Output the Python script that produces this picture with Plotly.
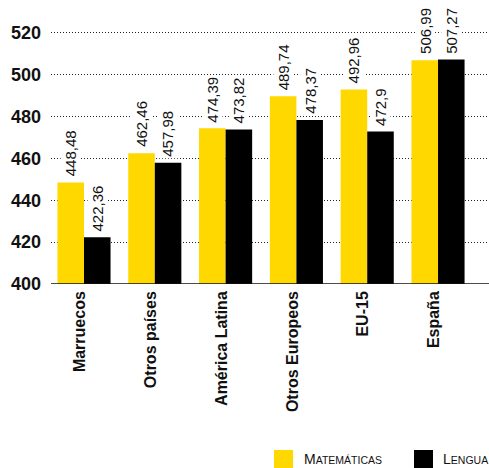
import plotly.graph_objects as go

categories = ["Marruecos", "Otros países", "América Latina", "Otros Europeos", "EU-15", "España"]
matematicas = [448.48, 462.46, 474.39, 489.74, 492.96, 506.99]
lengua = [422.36, 457.98, 473.82, 478.37, 472.9, 507.27]
mat_labels = ["448,48", "462,46", "474,39", "489,74", "492,96", "506,99"]
len_labels = ["422,36", "457,98", "473,82", "478,37", "472,9", "507,27"]
y_ticks = [400, 420, 440, 460, 480, 500, 520]
series_names = ["Matemáticas", "Lengua"]
series_colors = ["#FFD800", "#000000"]

FONT = "Liberation Sans, Arial, Helvetica, sans-serif"

W, H = 489, 468
ML, MR, MT, MB = 51, 0, 12, 184
PW, PH = W - ML - MR, H - MT - MB
X_RANGE = [-0.466, 5.72]
BARGAP = 0.25

fig = go.Figure()
for vals, name, color in [(matematicas, series_names[0], series_colors[0]),
                          (lengua, series_names[1], series_colors[1])]:
    fig.add_trace(go.Bar(
        x=categories, y=vals, name=name, marker_color=color, marker_line_width=0,
        showlegend=False, hoverinfo="skip",
    ))

# value labels above each bar (white background knocks out the dotted grid)
px_per_cat = PW / (X_RANGE[1] - X_RANGE[0])
half_bar = (1 - BARGAP) / 4 * px_per_cat
for labels, vals, sign in [(mat_labels, matematicas, -1), (len_labels, lengua, 1)]:
    for cat, v, lab in zip(categories, vals, labels):
        fig.add_annotation(x=cat, y=v, text=lab, showarrow=False, textangle=-90,
                           xshift=sign * half_bar, yshift=4, yanchor="bottom",
                           xanchor="center", bgcolor="white", borderpad=1,
                           font=dict(family=FONT, size=15, color="#111"))

fig.update_layout(
    width=W, height=H,
    margin=dict(l=ML, r=MR, t=MT, b=MB, autoexpand=False),
    paper_bgcolor="white", plot_bgcolor="white",
    barmode="group", bargap=BARGAP, bargroupgap=0,
    font=dict(family=FONT, color="#111"),
    showlegend=False,
)
fig.update_xaxes(
    tickangle=-90, tickfont=dict(family=FONT, size=16, color="#111", weight="bold"),
    range=X_RANGE, showline=False, ticks="", showgrid=False, automargin=False,
    ticklabelshift=-4, ticklabelstandoff=3,
)
fig.update_yaxes(
    range=[400, 530], tickvals=y_ticks,
    tickfont=dict(family=FONT, size=18, color="#111", weight="bold"),
    showgrid=True, gridcolor="#222", griddash="1px,2px", gridwidth=1,
    zeroline=False, showline=False, ticks="", ticklabelstandoff=9, automargin=False,
)
fig.add_hline(y=400, line=dict(color="#111", width=1.5))

# legend drawn manually (squares + small-caps labels)
def px_x(px):
    return (px - ML) / PW

def px_y(py):
    return (H - MB - py) / PH

legend_items = [
    (274, 293, 302, series_colors[0], "M<span style='font-size:10.5px'>ATEMÁTICAS</span>"),
    (414, 433, 441, series_colors[1], "L<span style='font-size:10.5px'>ENGUA</span>"),
]
for x0, x1, tx, color, label in legend_items:
    fig.add_shape(type="rect", xref="paper", yref="paper",
                  x0=px_x(x0), x1=px_x(x1), y0=px_y(468), y1=px_y(450),
                  fillcolor=color, line_width=0)
    fig.add_annotation(xref="paper", yref="paper", x=px_x(tx), y=px_y(459),
                       xanchor="left", yanchor="middle", showarrow=False,
                       text=label, font=dict(family=FONT, size=14, color="#111"))

fig.write_html("out.html", config={"displayModeBar": False, "staticPlot": True},
               post_script="document.body.style.margin='0';document.body.style.overflow='hidden';")
